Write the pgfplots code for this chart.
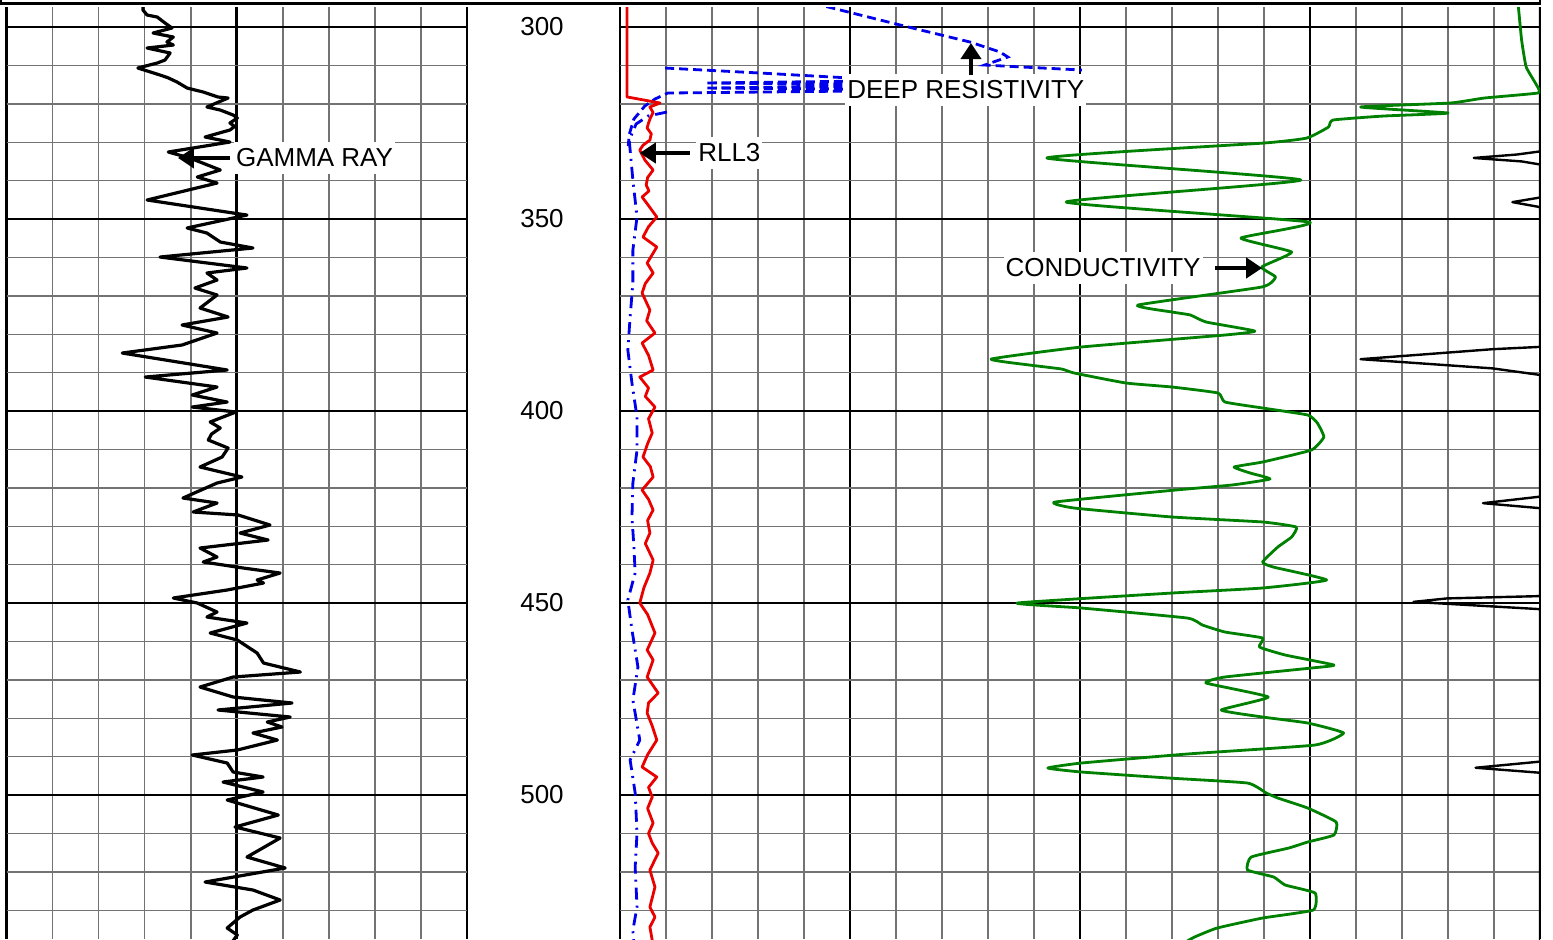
\documentclass[border=0pt]{standalone}
\usepackage{fontspec}
\setmainfont{Liberation Sans}
\usepackage{pgfplots}
\pgfplotsset{compat=1.18}
\usetikzlibrary{arrows.meta}

\definecolor{logred}{RGB}{235,0,0}
\definecolor{logblue}{RGB}{0,0,235}
\definecolor{loggreen}{RGB}{0,128,0}

\tikzset{
  loglabel/.style={fill=white, inner xsep=1pt, inner ysep=0.5pt,
    text height=11.7pt, text depth=3.2pt,
    font=\fontsize{13pt}{15pt}\selectfont, anchor=west},
  logarrow/.style={line width=2.4pt, -{Triangle[length=8pt,width=10pt]}},
}

\pgfplotsset{
  track/.style={
    scale only axis, height=466pt, anchor=south west,
    y dir=reverse, ymin=294.79, ymax=537.5,
    ytick={300,350,...,500}, minor ytick={310,320,...,530},
    minor x tick num=4,
    major tick length=0pt, minor tick length=0pt,
    xticklabels={},
    grid=both,
    major grid style={black, line width=1.4pt},
    minor grid style={black!55, line width=0.7pt},
    axis line style={draw=none},
  },
}

\begin{document}
\begin{tikzpicture}[x=1pt,y=1pt]
\useasboundingbox (0,0) rectangle (776.5,469.5);
% lower edge of the header box
\draw[line width=1.2pt] (0.5,469.5) -- (0.5,467.8) -- (770,467.8) -- (770,469.5);

% ---------------- track 1: gamma ray ----------------
\begin{axis}[track, at={(3.35pt,0pt)}, width=230.15pt,
  xmin=0, xmax=10, xtick={0,5,10}, yticklabels={}]
\addplot[black, line width=1.6pt, line join=round] coordinates {
(2.96,293.5)(2.96,295.57)(3.05,296.88)(3.27,297.40)(3.44,298.96)(3.59,300.26)
(3.18,301.56)(3.62,302.61)(3.48,303.91)(3.62,304.69)(3.05,305.47)(3.55,306.77)
(3.44,308.59)(3.27,309.38)(2.85,310.68)(3.33,312.50)(3.50,313.2)(3.70,314.32)(3.92,315.89)
(4.27,316.93)(4.59,318.23)(4.81,318.49)(4.35,320.83)(4.64,321.62)(4.92,322.92)
(5.01,323.70)(4.85,325.0)(4.95,325.9)(4.85,326.82)(4.31,328.65)(4.85,329.95)(3.51,332.55)
(3.98,334.12)(4.64,337.24)(4.14,339.06)(4.57,340.63)(3.05,345.05)(4.92,348.44)
(5.22,348.96)(3.92,352.34)(4.35,353.65)(4.64,355.99)(5.35,357.55)(3.33,359.90)
(5.22,362.76)(4.35,364.06)(4.57,365.89)(4.09,367.97)(4.57,369.79)(4.20,373.18)
(4.81,375.52)(3.81,377.60)(4.57,379.69)(3.81,382.81)(2.51,384.90)(4.79,389.32)
(3.01,391.15)(4.57,393.75)(4.03,395.83)(4.79,397.66)(4.03,398.96)(4.98,400.26)
(4.42,402.86)(4.64,404.43)(4.45,406.0)(4.38,407.55)(4.81,409.64)(4.68,411.98)(4.20,414.58)
(5.11,417.19)(4.57,418.75)(3.83,422.66)(4.57,423.96)(4.05,426.30)(5.03,427.08)
(5.72,429.69)(5.07,431.77)(5.68,433.59)(4.20,435.68)(4.57,438.02)(4.27,439.32)
(5.14,440.89)(5.94,442.19)(5.44,444.01)(5.58,444.79)(4.79,446.61)(3.62,448.70)
(4.14,450.0)(4.57,452.35)(4.35,453.65)(5.22,455.21)(4.42,457.81)(5.01,459.64)
(5.44,463.02)(5.58,465.63)(6.38,467.97)(4.92,469.27)(4.20,471.88)(4.92,474.48)
(6.20,476.04)(4.59,477.86)(6.16,479.69)(5.66,480.99)(5.98,482.29)(5.35,483.85)
(5.88,485.68)(5.01,488.28)(4.03,489.58)(4.79,491.67)(4.92,494.01)(5.57,495.31)
(4.70,496.61)(5.57,499.22)(4.79,501.30)(5.90,505.21)(4.96,508.33)(5.94,511.20)
(5.22,516.15)(6.05,519.01)(4.31,522.66)(5.35,524.74)(5.94,527.34)(5.35,529.95)
(5.07,531.77)(4.79,534.64)(5.01,536.46)(4.85,539.06)
};
\draw[logarrow] (axis cs:4.85,334.1) -- (axis cs:3.72,334.1);
\node[loglabel] at (axis cs:4.93,334.1) {GAMMA RAY};
\end{axis}

% ---------------- track 2: resistivity / conductivity ----------------
\begin{axis}[track, at={(310pt,0pt)}, width=460pt,
  xmin=0, xmax=20, xtick={0,5,...,20},
  yticklabels={300,350,400,450,500},
  yticklabel style={anchor=center, xshift=-39pt,
    font=\fontsize{13pt}{15pt}\selectfont}]
% backup curve, pinned at the right edge
\addplot[black, line width=1.2pt, line join=round] coordinates {
(20,293)(20,332.4)(19.5,333.2)(18.56,334.1)(19.6,335.0)(20,335.8)
(20,344.4)(19.4,345.6)(20,346.9)
(20,383.3)(18.97,383.9)(16.1,386.5)(18.97,388.9)(20,390.6)
(20,422.3)(18.76,424.0)(20,425.3)
(20,448.2)(17.98,448.8)(17.25,449.7)(20,451.6)
(20,491.3)(18.6,492.9)(20,494.2)(20,540)
};
% shallow resistivity
\addplot[logblue, line width=1.4pt, dash pattern=on 6pt off 3pt on 1pt off 3pt] coordinates {
(1.02,322.14)(0.61,323.18)(0.35,325.26)(0.20,329.43)(0.22,332.03)(0.28,339.84)
(0.37,349.48)(0.28,358.07)(0.28,366.67)(0.22,375.52)(0.17,384.11)(0.26,392.71)
(0.37,401.56)(0.37,410.16)(0.28,418.75)(0.26,427.60)(0.30,434.90)(0.33,442.19)
(0.17,449.22)(0.26,457.03)(0.39,466.67)(0.28,475.26)(0.43,485.68)(0.22,490.89)
(0.33,499.48)(0.37,509.90)(0.33,518.75)(0.37,529.17)(0.28,535.16)(0.30,539.06)
};
% deep resistivity
\addplot[logblue, line width=1.4pt, dash pattern=on 4.5pt off 2.5pt] coordinates {
(4.2,293.5)(4.35,294.27)(6.09,299.48)(7.61,303.91)(8.26,306.51)(8.43,307.81)
(7.93,309.90)(8.33,310.16)(10.04,311.2)
};
\addplot[logblue, line width=1.4pt, dash pattern=on 4.5pt off 2.5pt] coordinates {
(0.98,310.68)(3.04,311.98)(5.0,313.28)(7.17,313.8)(1.85,314.58)(7.17,315.1)
(1.85,315.89)(7.17,316.41)(1.04,317.19)(0.76,318.75)(0.54,320.57)(0.3,324.0)
(0.2,328.0)(0.18,331.0)
};
% RLL3
\addplot[logred, line width=1.4pt, line join=round] coordinates {
(0.15,293)(0.15,318.2)(0.87,319.79)(0.65,320.83)(0.72,322.3)(0.66,323.7)
(0.62,325.0)(0.59,326.3)(0.68,327.8)(0.65,329.43)(0.5,330.8)(0.43,332.03)
(0.54,334.64)(0.72,337.24)(0.6,339.2)(0.57,341.15)(0.63,342.7)(0.48,344.27)
(0.62,346.5)(0.8,349.48)(0.62,352.0)(0.5,354.69)(0.8,357.29)(0.59,361.46)
(0.72,364.06)(0.55,366.8)(0.48,369.27)(0.65,373.7)(0.58,376.5)(0.76,379.69)
(0.48,382.29)(0.62,385.5)(0.72,389.32)(0.43,391.15)(0.62,394.0)(0.55,396.2)
(0.76,398.96)(0.62,402.0)(0.7,405.73)(0.6,408.5)(0.5,411.98)(0.66,414.5)
(0.72,417.19)(0.48,420.57)(0.62,423.0)(0.72,425.78)(0.6,428.5)(0.65,431.77)
(0.55,434.5)(0.72,438.8)(0.65,442.19)(0.52,446.0)(0.43,450.0)(0.6,453.0)
(0.76,457.81)(0.59,462.24)(0.72,464.84)(0.59,469.27)(0.83,473.44)(0.62,476.0)
(0.59,478.65)(0.7,482.0)(0.8,485.68)(0.6,489.5)(0.48,492.71)(0.8,495.31)
(0.62,498.0)(0.7,500.52)(0.6,503.5)(0.72,507.29)(0.62,510.0)(0.7,512.5)
(0.83,515.1)(0.65,519.53)(0.76,523.96)(0.65,529.17)(0.76,531.77)(0.65,534.38)
(0.7,537.76)(0.7,540)
};
% conductivity
\addplot[loggreen, line width=1.4pt, line join=round, smooth, tension=0.25] coordinates {
(19.5,293.5)(19.53,294.79)(19.6,303.39)(19.7,310.42)(19.95,315.63)(19.95,317.19)
(18.79,318.49)(18.05,319.79)(16.1,320.83)(18.0,322.40)(16.6,323.18)(15.5,324.22)
(15.4,326.07)(14.93,328.91)(14.0,330.21)(9.28,334.12)(14.8,339.84)(9.7,345.57)
(14.98,350.78)(13.5,354.95)(14.6,358.6)(13.95,362.5)(14.25,365.1)(13.95,367.71)
(11.26,372.4)(12.0,374.22)(12.4,375.0)(12.74,376.82)(13.8,379.17)(13.15,380.21)
(10.03,383.33)(8.07,386.46)(8.9,388.02)(9.6,389.06)(9.87,390.1)(11.0,392.71)
(12.0,393.75)(13.0,395.31)(13.15,397.66)(13.97,399.22)(14.95,401.04)(15.16,403.13)
(15.3,406.77)(15.03,410.16)(13.97,413.28)(13.35,414.58)(13.7,416.15)(14.13,417.71)
(13.3,419.27)(12.08,420.57)(9.46,423.70)(9.87,425.26)(12.0,427.6)(13.97,428.9)
(14.7,430.21)(14.6,432.81)(14.3,435.42)(13.97,439.32)(14.2,440.63)(15.36,444.01)
(13.97,446.09)(12.0,447.40)(8.64,450.0)(10.03,451.3)(12.33,453.91)(12.66,455.73)
(13.15,457.55)(13.97,459.11)(13.9,461.46)(14.46,463.54)(15.52,466.15)(15.03,466.93)
(13.15,469.27)(12.74,470.83)(14.09,474.48)(13.07,477.86)(13.97,479.69)(14.95,481.25)
(15.73,483.85)(15.11,486.98)(12.33,489.32)(10.03,491.67)(9.3,492.97)(10.03,494.01)
(11.92,495.57)(13.64,496.88)(14.05,499.48)(14.3,500.78)(14.95,503.39)(15.57,507.03)
(15.52,510.42)(14.95,512.24)(14.54,513.80)(13.72,516.15)(13.64,519.53)(14.21,521.35)
(14.46,523.44)(15.11,525.52)(15.07,529.95)(13.97,532.03)(12.98,534.64)(12.49,536.98)
(12.3,538.27)
};
\draw[logarrow] (axis cs:1.52,332.81) -- (axis cs:0.43,332.81);
\node[loglabel] at (axis cs:1.65,332.81) {RLL3};
\node[loglabel] at (axis cs:4.89,316.41) {DEEP RESISTIVITY};
\draw[logarrow] (axis cs:7.63,312.6) -- (axis cs:7.63,304.17);
\draw[logarrow] (axis cs:12.93,362.76) -- (axis cs:13.96,362.76);
\node[loglabel] at (axis cs:8.33,362.76) {CONDUCTIVITY};
\end{axis}
\end{tikzpicture}
\end{document}
